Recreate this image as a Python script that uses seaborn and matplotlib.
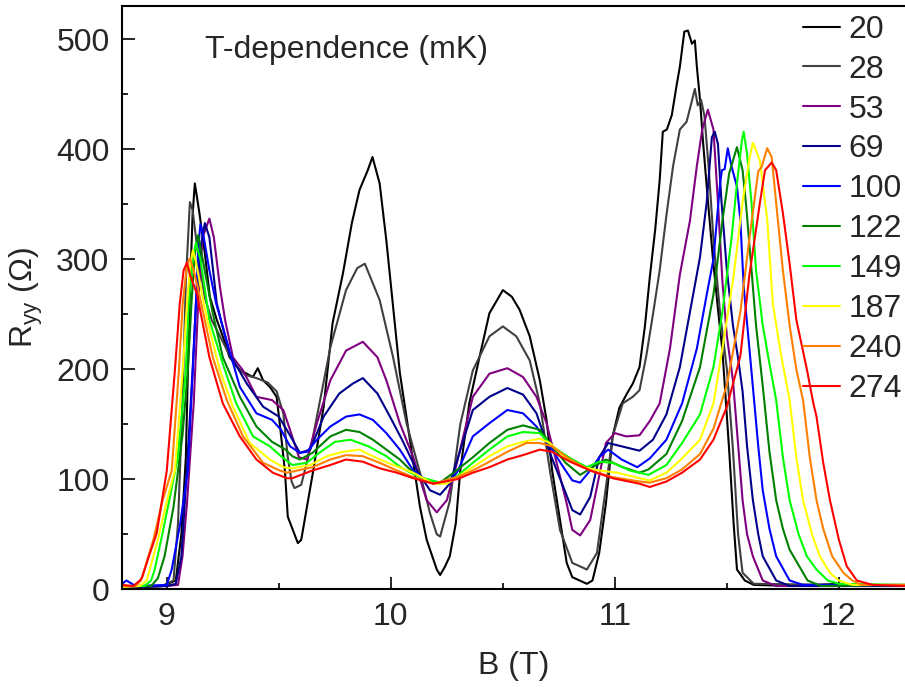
import numpy as np
import pandas as pd
import matplotlib
matplotlib.use("Agg")
import matplotlib.pyplot as plt
import seaborn as sns
from matplotlib.ticker import MultipleLocator

# ---------------- data ----------------
temps = ["20", "28", "53", "69", "100", "122", "149", "187", "240", "274"]
colors = ["#000000", "#404040", "#800080", "#00008B", "#0000FF",
          "#008000", "#00FF00", "#FFFF00", "#FF8000", "#FF0000"]

B_20 = [8.80, 8.90, 8.98, 9.04, 9.065, 9.085, 9.10, 9.115, 9.125, 9.135, 9.147, 9.17, 9.192, 9.223, 9.25,
        9.28, 9.326, 9.357, 9.384, 9.406, 9.43, 9.46, 9.49, 9.504, 9.527, 9.54, 9.585, 9.60, 9.652, 9.70,
        9.74, 9.786, 9.826, 9.86, 9.897, 9.918, 9.95, 9.98, 10.01, 10.04, 10.085, 10.13, 10.16, 10.205,
        10.22, 10.24, 10.263, 10.29, 10.31, 10.35, 10.40, 10.44, 10.50, 10.54, 10.575, 10.62, 10.665,
        10.695, 10.72, 10.755, 10.785, 10.81, 10.875, 10.90, 10.93, 10.96, 10.99, 11.02, 11.054, 11.08,
        11.11, 11.134, 11.156, 11.18, 11.20, 11.214, 11.232, 11.254, 11.277, 11.29, 11.31, 11.326,
        11.344, 11.357, 11.366, 11.38, 11.393, 11.415, 11.438, 11.46, 11.48, 11.51, 11.53, 11.545,
        11.58, 11.62, 11.80, 12.00, 12.30]
R_20 = [3, 2, 3, 8, 50, 120, 250, 340, 369, 356, 340, 305, 266, 245, 230,
        211, 199, 196, 193, 201, 190, 184, 175, 151, 108, 66, 42, 45, 106, 166,
        242, 287, 333, 363, 381, 393, 369, 317, 257, 197, 136, 75, 45, 18,
        13, 20, 30, 60, 108, 169, 215, 251, 272, 266, 254, 230, 190,
        154, 108, 63, 24, 11, 5, 8, 33, 78, 139, 165, 178, 187,
        202, 239, 284, 327, 372, 416, 418, 431, 460, 475, 507, 508,
        496, 499, 475, 445, 408, 354, 300, 255, 217, 127, 60, 18,
        8, 4, 3, 5, 3]

B_28 = [8.80, 8.98, 9.03, 9.05, 9.07, 9.085, 9.103, 9.115, 9.13, 9.15, 9.17, 9.20, 9.25, 9.30, 9.35,
        9.40, 9.45, 9.49, 9.52, 9.54, 9.557, 9.57, 9.60, 9.65, 9.73, 9.80, 9.85, 9.884, 9.95, 10.01,
        10.07, 10.13, 10.175, 10.205, 10.22, 10.263, 10.31, 10.366, 10.44, 10.50, 10.56, 10.62, 10.665,
        10.71, 10.755, 10.81, 10.875, 10.92, 10.96, 10.99, 11.035, 11.08, 11.11, 11.14, 11.17, 11.20,
        11.23, 11.26, 11.29, 11.32, 11.345, 11.357, 11.37, 11.385, 11.40, 11.42, 11.44, 11.47, 11.50,
        11.527, 11.55, 11.57, 11.62, 12.00, 12.30]
R_28 = [2, 3, 8, 60, 170, 280, 352, 345, 320, 290, 265, 245, 225, 205, 195,
        192, 188, 180, 160, 120, 98, 92, 95, 136, 220, 272, 292, 296, 263, 211,
        151, 106, 69, 50, 48, 80, 150, 199, 230, 239, 230, 208, 169,
        108, 54, 24, 18, 33, 93, 139, 169, 175, 181, 212, 250, 290,
        340, 385, 418, 425, 445, 455, 440, 445, 430, 380, 318, 250, 200,
        127, 50, 15, 5, 4, 3]

B_53 = [8.80, 9.00, 9.05, 9.07, 9.09, 9.12, 9.14, 9.16, 9.19, 9.21, 9.237, 9.26, 9.295, 9.34, 9.40,
        9.47, 9.52, 9.55, 9.59, 9.625, 9.67, 9.73, 9.80, 9.875, 9.94, 9.98, 10.04, 10.10, 10.16, 10.205,
        10.25, 10.295, 10.366, 10.44, 10.52, 10.59, 10.65, 10.695, 10.74, 10.785, 10.81, 10.845, 10.89,
        10.92, 10.96, 11.00, 11.05, 11.11, 11.156, 11.20, 11.246, 11.29, 11.335, 11.366, 11.39, 11.415,
        11.44, 11.46, 11.48, 11.50, 11.527, 11.54, 11.57, 11.59, 11.616, 11.66, 11.72, 12.30]
R_53 = [2, 3, 4, 30, 78, 169, 260, 320, 337, 320, 275, 245, 211, 199, 175,
        172, 163, 145, 120, 118, 151, 190, 217, 225, 211, 190, 151, 120, 81, 70,
        81, 115, 175, 196, 201, 193, 175, 151, 115, 78, 54, 49, 63,
        93, 133, 142, 139, 140, 153, 169, 219, 286, 335, 385, 418, 436,
        418, 352, 280, 230, 190, 157, 81, 50, 30, 8, 3, 3]

B_69 = [8.80, 9.00, 9.04, 9.065, 9.09, 9.115, 9.13, 9.15, 9.17, 9.19, 9.223, 9.28, 9.357, 9.43, 9.50,
        9.55, 9.594, 9.64, 9.70, 9.77, 9.83, 9.875, 9.94, 9.996, 10.05, 10.116, 10.175, 10.22, 10.263,
        10.30, 10.366, 10.44, 10.52, 10.59, 10.65, 10.71, 10.77, 10.81, 10.845, 10.89, 10.93, 10.97,
        11.03, 11.11, 11.17, 11.23, 11.29, 11.335, 11.38, 11.41, 11.433, 11.446, 11.46, 11.476, 11.50,
        11.527, 11.55, 11.57, 11.59, 11.616, 11.64, 11.66, 11.72, 11.78, 12.30]
R_69 = [2, 3, 5, 30, 110, 199, 260, 310, 333, 320, 260, 214, 187, 166, 157,
        140, 124, 127, 157, 178, 187, 192, 178, 157, 136, 108, 90, 86, 96,
        120, 163, 175, 183, 177, 160, 124, 93, 72, 68, 84, 120, 133,
        130, 126, 136, 159, 202, 252, 302, 352, 411, 416, 405, 352, 290,
        240, 210, 180, 130, 81, 50, 30, 8, 3, 3]

B_100 = [8.80, 8.82, 8.86, 9.00, 9.022, 9.06, 9.094, 9.116, 9.13, 9.14, 9.15, 9.165, 9.19, 9.22, 9.27,
         9.326, 9.40, 9.47, 9.51, 9.55, 9.594, 9.625, 9.67, 9.73, 9.80, 9.86, 9.92, 9.98, 10.04, 10.10,
         10.16, 10.22, 10.28, 10.30, 10.366, 10.44, 10.52, 10.59, 10.65, 10.71, 10.77, 10.81, 10.845,
         10.89, 10.93, 10.97, 11.03, 11.10, 11.156, 11.23, 11.30, 11.366, 11.41, 11.44, 11.455, 11.47,
         11.478, 11.49, 11.504, 11.52, 11.545, 11.56, 11.575, 11.60, 11.62, 11.64, 11.66, 11.69, 11.72,
         11.78, 11.84, 12.30]
R_100 = [5, 8, 3, 4, 18, 60, 108, 199, 260, 310, 332, 320, 290, 260, 224,
         184, 160, 154, 145, 130, 124, 125, 136, 148, 157, 159, 154, 142, 127, 108,
         99, 96, 102, 108, 139, 151, 163, 160, 148, 130, 111, 99, 97,
         108, 120, 127, 118, 111, 119, 136, 169, 219, 268, 300, 335, 370,
         381, 382, 401, 385, 366, 336, 275, 220, 175, 130, 90, 55, 30,
         8, 4, 4]

B_122 = [8.80, 8.93, 8.96, 8.99, 9.03, 9.07, 9.094, 9.11, 9.125, 9.14, 9.16, 9.205, 9.25, 9.326, 9.40,
         9.47, 9.53, 9.56, 9.594, 9.65, 9.73, 9.80, 9.86, 9.92, 9.98, 10.04, 10.10, 10.16, 10.22, 10.28,
         10.366, 10.44, 10.52, 10.59, 10.665, 10.72, 10.78, 10.845, 10.90, 10.96, 11.035, 11.11, 11.15,
         11.23, 11.30, 11.38, 11.44, 11.48, 11.51, 11.545, 11.57, 11.585, 11.61, 11.63, 11.66, 11.69,
         11.72, 11.75, 11.78, 11.86, 11.92, 12.30]
R_122 = [3, 3, 10, 30, 75, 140, 199, 260, 305, 322, 300, 251, 211, 175, 148,
         134, 127, 121, 118, 124, 139, 145, 143, 136, 127, 118, 106, 99, 97, 106,
         120, 133, 145, 149, 145, 130, 115, 104, 111, 118, 111, 106, 109,
         123, 153, 202, 268, 335, 378, 402, 381, 351, 290, 240, 185, 125,
         81, 55, 36, 8, 3, 4]

B_149 = [8.80, 8.90, 8.93, 8.946, 8.98, 9.02, 9.049, 9.085, 9.098, 9.115, 9.13, 9.15, 9.19, 9.25, 9.31,
         9.385, 9.46, 9.51, 9.56, 9.625, 9.68, 9.75, 9.82, 9.90, 9.98, 10.05, 10.13, 10.22, 10.29,
         10.366, 10.44, 10.52, 10.59, 10.665, 10.72, 10.81, 10.875, 10.93, 10.99, 11.067, 11.11, 11.15,
         11.23, 11.30, 11.38, 11.44, 11.48, 11.52, 11.545, 11.567, 11.575, 11.59, 11.61, 11.63, 11.66,
         11.69, 11.72, 11.75, 11.78, 11.82, 11.857, 11.90, 11.95, 12.00, 12.30]
R_149 = [3, 3, 8, 18, 50, 90, 120, 199, 260, 300, 315, 300, 245, 205, 169,
         139, 130, 121, 113, 115, 124, 134, 136, 130, 121, 110, 102, 97, 102,
         115, 127, 139, 143, 142, 130, 118, 111, 116, 115, 108, 106, 104,
         113, 133, 159, 202, 252, 318, 369, 408, 416, 396, 351, 290, 240,
         205, 172, 120, 81, 50, 30, 18, 8, 5, 4]

B_187 = [8.80, 8.88, 8.91, 8.924, 8.96, 9.00, 9.036, 9.071, 9.09, 9.105, 9.116, 9.13, 9.16, 9.18, 9.237,
         9.295, 9.37, 9.46, 9.52, 9.56, 9.64, 9.714, 9.786, 9.86, 9.94, 10.01, 10.10, 10.19, 10.25,
         10.366, 10.44, 10.52, 10.59, 10.665, 10.71, 10.785, 10.857, 10.93, 11.01, 11.11, 11.156, 11.23,
         11.30, 11.38, 11.44, 11.48, 11.53, 11.57, 11.60, 11.616, 11.647, 11.68, 11.705, 11.74, 11.78,
         11.81, 11.84, 11.88, 11.915, 11.96, 12.00, 12.06, 12.30]
R_187 = [2, 3, 8, 18, 45, 80, 108, 199, 260, 295, 308, 298, 265, 245, 199,
         166, 133, 118, 111, 110, 113, 121, 125, 127, 119, 113, 106, 96, 96,
         111, 121, 130, 134, 137, 133, 118, 111, 108, 106, 101, 99, 106,
         119, 136, 169, 219, 285, 352, 391, 406, 390, 336, 260, 215, 172,
         120, 81, 50, 30, 15, 8, 4, 4]

B_240 = [8.80, 8.86, 8.885, 8.90, 8.94, 8.98, 9.022, 9.054, 9.071, 9.09, 9.103, 9.12, 9.147, 9.205, 9.268,
         9.34, 9.43, 9.504, 9.536, 9.56, 9.65, 9.73, 9.80, 9.875, 9.95, 10.027, 10.10, 10.19, 10.295,
         10.366, 10.44, 10.52, 10.605, 10.665, 10.72, 10.80, 10.89, 10.99, 11.11, 11.156, 11.23, 11.30,
         11.38, 11.44, 11.50, 11.56, 11.60, 11.64, 11.655, 11.68, 11.70, 11.72, 11.75, 11.78, 11.81,
         11.84, 11.87, 11.90, 11.93, 11.97, 12.02, 12.06, 12.10, 12.30]
R_240 = [3, 3, 8, 18, 45, 80, 108, 199, 260, 295, 301, 290, 266, 211, 172,
         139, 115, 108, 106, 107, 111, 118, 122, 121, 115, 108, 102, 96, 102,
         108, 116, 125, 133, 133, 130, 118, 108, 102, 98, 97, 101, 109,
         123, 146, 186, 252, 318, 380, 384, 401, 393, 351, 290, 240, 200,
         172, 120, 81, 55, 30, 15, 8, 4, 4]

B_274 = [8.80, 8.85, 8.88, 8.89, 8.92, 8.955, 9.00, 9.036, 9.058, 9.075, 9.09, 9.105, 9.134, 9.19, 9.25,
         9.326, 9.40, 9.473, 9.536, 9.56, 9.65, 9.73, 9.80, 9.875, 9.95, 10.027, 10.10, 10.19, 10.295,
         10.366, 10.44, 10.52, 10.59, 10.665, 10.72, 10.80, 10.89, 10.99, 11.11, 11.156, 11.23, 11.30,
         11.38, 11.44, 11.50, 11.56, 11.60, 11.647, 11.67, 11.70, 11.72, 11.75, 11.78, 11.81, 11.857,
         11.885, 11.90, 11.93, 11.96, 12.00, 12.035, 12.08, 12.15, 12.30]
R_274 = [4, 3, 8, 11, 30, 51, 108, 199, 260, 290, 297, 285, 269, 211, 169,
         139, 118, 106, 101, 101, 108, 113, 118, 116, 110, 106, 101, 96, 100,
         106, 111, 118, 122, 127, 125, 116, 108, 101, 96, 93, 98, 106,
         118, 136, 166, 212, 285, 351, 381, 388, 381, 342, 296, 245, 200,
         170, 157, 115, 81, 45, 21, 8, 4, 3]

series_B = [B_20, B_28, B_53, B_69, B_100, B_122, B_149, B_187, B_240, B_274]
series_R = [R_20, R_28, R_53, R_69, R_100, R_122, R_149, R_187, R_240, R_274]

frames = [pd.DataFrame({"B": b, "R": r, "T": t}) for b, r, t in zip(series_B, series_R, temps)]
df = pd.concat(frames, ignore_index=True)

# ---------------- style ----------------
sns.set_style("ticks")
plt.rcParams["font.family"] = ["Liberation Sans", "DejaVu Sans"]
plt.rcParams["mathtext.fontset"] = "custom"
plt.rcParams["mathtext.rm"] = "Liberation Sans"
plt.rcParams["mathtext.it"] = "Liberation Sans"

W, H = 905, 693
fig = plt.figure(figsize=(W / 100, H / 100), dpi=100)
ax_l, ax_r, ax_b, ax_t = 122, 905, 589.3, 6
ax = fig.add_axes([ax_l / W, (H - ax_b) / H, (ax_r - ax_l) / W, (ax_b - ax_t) / H])

sns.lineplot(data=df, x="B", y="R", hue="T", hue_order=temps,
             palette=dict(zip(temps, colors)), estimator=None, sort=False,
             linewidth=1.5, ax=ax, legend="full")

ax.set_xlim(8.8, 12.295)
ax.set_ylim(0, 530.3)
ax.xaxis.set_major_locator(MultipleLocator(1))
ax.xaxis.set_minor_locator(MultipleLocator(0.5))
ax.yaxis.set_major_locator(MultipleLocator(100))
ax.yaxis.set_minor_locator(MultipleLocator(50))
ax.tick_params(which="both", direction="in", top=False, right=False, width=1.2,
               labelsize=23, color="black")
ax.tick_params(which="major", length=9, pad=9)
ax.tick_params(which="minor", length=4.5)
for s in ["left", "bottom", "top"]:
    ax.spines[s].set_linewidth(1.5)
    ax.spines[s].set_color("black")
ax.spines["right"].set_visible(False)

ax.set_xlabel("B (T)", fontsize=23, labelpad=14)
ax.set_ylabel(r"R$_{\rm yy}$ ($\Omega$)", fontsize=23, labelpad=8)

ax.text((205 - ax_l) / (ax_r - ax_l), 0.925, "T-dependence (mK)", transform=ax.transAxes,
        fontsize=23, ha="left", va="center")

handles, labels = ax.get_legend_handles_labels()
ax.legend(handles, labels, loc="upper left", bbox_to_anchor=((803 - ax_l) / (ax_r - ax_l), 0.985),
          frameon=False, fontsize=23, handlelength=1.15, handletextpad=0.28,
          labelspacing=0.31, borderpad=0, borderaxespad=0)

fig.savefig("out.png", dpi=100)
